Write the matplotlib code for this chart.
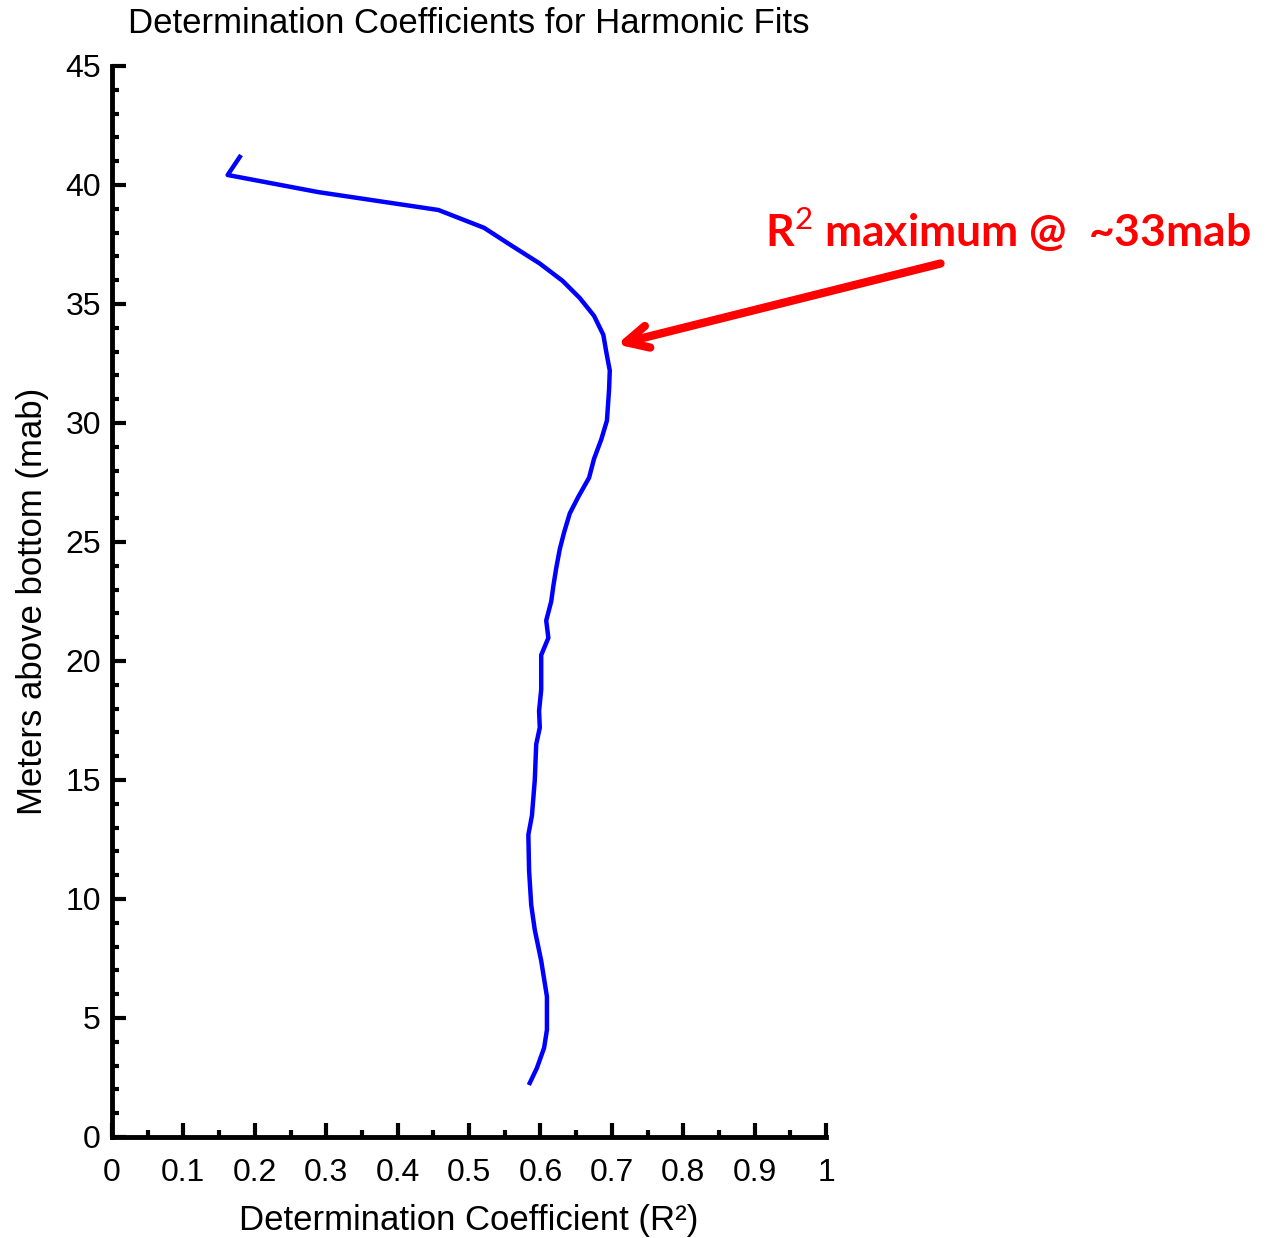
import numpy as np
import matplotlib
matplotlib.use("Agg")
import matplotlib.pyplot as plt
from matplotlib.ticker import MultipleLocator

# R^2 profile (x = R^2, y = meters above bottom)
r2 = [0.179, 0.162, 0.289, 0.457, 0.521, 0.557, 0.599, 0.631, 0.655, 0.675,
      0.688, 0.692, 0.697, 0.696, 0.693, 0.685, 0.675, 0.668, 0.653, 0.641,
      0.633, 0.627, 0.622, 0.618, 0.615, 0.608, 0.611, 0.601, 0.601, 0.598,
      0.599, 0.594, 0.592, 0.588, 0.583, 0.584, 0.587, 0.592, 0.601, 0.609,
      0.609, 0.605, 0.595, 0.585]
mab = [41.18, 40.42, 39.70, 38.95, 38.20, 37.50, 36.70, 35.97, 35.25, 34.50,
       33.70, 33.00, 32.20, 31.40, 30.10, 29.30, 28.50, 27.70, 26.90, 26.20,
       25.40, 24.70, 23.90, 23.15, 22.50, 21.70, 20.97, 20.25, 18.80, 17.90,
       17.20, 16.50, 15.00, 13.50, 12.70, 11.20, 9.75, 8.70, 7.40, 5.90,
       4.50, 3.74, 2.90, 2.27]

x_ticks = [0, 0.1, 0.2, 0.3, 0.4, 0.5, 0.6, 0.7, 0.8, 0.9, 1]
x_tick_labels = ["0", "0.1", "0.2", "0.3", "0.4", "0.5", "0.6", "0.7", "0.8", "0.9", "1"]
y_ticks = [0, 5, 10, 15, 20, 25, 30, 35, 40, 45]

peak_r2, peak_mab = 0.707, 33.3
arrow_tail = (1.16, 36.7)

plt.rcParams["font.family"] = ["Liberation Sans", "DejaVu Sans"]
plt.rcParams["mathtext.fontset"] = "custom"
plt.rcParams["mathtext.rm"] = "Lato"
plt.rcParams["mathtext.bf"] = "Lato:bold"

fig = plt.figure(figsize=(12.75, 12.38), dpi=100)
ax = fig.add_axes([0.0878, 0.0816, 0.648 - 0.0878, 0.9467 - 0.0816])

ax.plot(r2, mab, color="#0000ff", lw=3.2)

ax.set_xlim(0, 1)
ax.set_ylim(0, 45)
ax.set_xticks(x_ticks)
ax.set_xticklabels(x_tick_labels)
ax.set_yticks(y_ticks)
ax.xaxis.set_minor_locator(MultipleLocator(0.05))
ax.yaxis.set_minor_locator(MultipleLocator(1))
ax.tick_params(which="both", direction="in", width=3, labelsize=23)
ax.tick_params(which="major", length=10)
ax.tick_params(which="minor", length=5)
ax.tick_params(axis="x", which="major", pad=15)
ax.tick_params(axis="y", which="major", pad=8)

for s in ["top", "right"]:
    ax.spines[s].set_visible(False)
for s in ["left", "bottom"]:
    ax.spines[s].set_linewidth(3.5)

ax.set_title("Determination Coefficients for Harmonic Fits", fontsize=25, pad=24)
ax.set_xlabel("Determination Coefficient (R²)", fontsize=25, labelpad=12)
ax.set_ylabel("Meters above bottom (mab)", fontsize=25, labelpad=12)

ax.annotate("", xy=(peak_r2, peak_mab), xytext=arrow_tail,
            xycoords="data", textcoords="data", annotation_clip=False,
            arrowprops=dict(arrowstyle="->,head_length=1.6,head_width=0.8",
                            color="#ff0000", lw=6, shrinkA=0, shrinkB=0))

fig.text(765 / 1275, 1 - 247 / 1238, r"R$^{2}$ maximum @  ~33mab",
         color="#ff0000", fontsize=32, fontweight="bold",
         family=["Lato", "DejaVu Sans"], ha="left", va="baseline")

fig.savefig("out.png", dpi=100)
